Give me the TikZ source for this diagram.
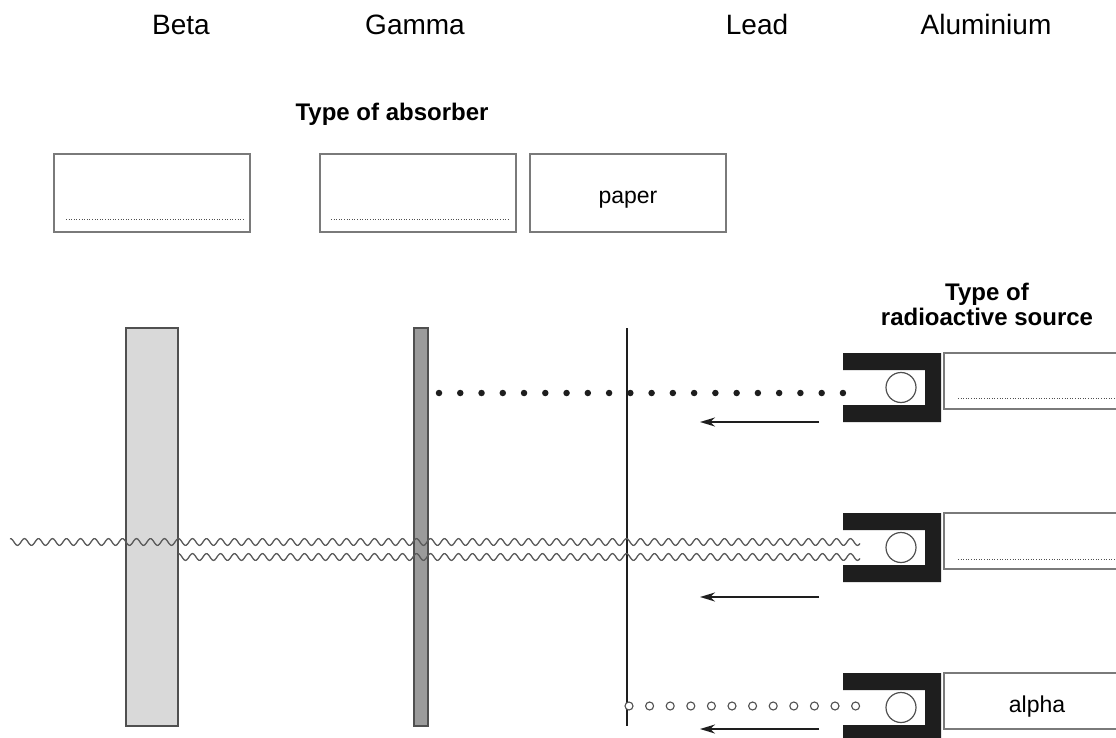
\documentclass[tikz,border=0pt]{standalone}
\usepackage{fontspec}
\setmainfont{Liberation Sans}
\usetikzlibrary{arrows.meta}
\definecolor{boxgray}{HTML}{7A7A7A}
\definecolor{edgegray}{HTML}{505050}
\definecolor{lightabs}{HTML}{D9D9D9}
\definecolor{darkabs}{HTML}{9B9B9B}
\definecolor{holder}{HTML}{1E1E1E}
\definecolor{wavegray}{HTML}{5A5A5A}
\begin{document}
\begin{tikzpicture}[x=1pt,y=-1pt,
  wordlbl/.style={font=\fontsize{28}{30}\selectfont, anchor=base, inner sep=0pt},
  ttl/.style={font=\bfseries\fontsize{24}{25}\selectfont, anchor=base, inner sep=0pt},
  boxtxt/.style={font=\fontsize{23}{25}\selectfont, anchor=base, inner sep=0pt},
  ansbox/.style={draw=boxgray, line width=1.4pt, fill=white},
  dotline/.style={draw=edgegray, line width=1pt, dash pattern=on 1pt off 1.6pt},
  absorb/.style={draw=edgegray, line width=1.4pt},
  holderfill/.style={fill=holder},
  srccirc/.style={draw=edgegray, line width=1.2pt, fill=white},
  wave/.style={draw=wavegray, line width=1.3pt},
  ray/.style={draw=holder, line width=2pt, -{Stealth[length=15pt,width=9pt]}},
  bdot/.style={circle, fill=holder, inner sep=0pt, minimum size=6.5pt},
  odot/.style={circle, draw=edgegray, line width=1.1pt, inner sep=0pt, minimum size=8pt, fill=white}
]
\clip (0,0) rectangle (1116,738);
\fill[white] (0,0) rectangle (1116,738);

% word bank
\node[wordlbl] (wBeta) at (181,35) {Beta};
\node[wordlbl] (wGamma) at (415,35) {Gamma};
\node[wordlbl] (wLead) at (757,35) {Lead};
\node[wordlbl] (wAl) at (986,35) {Aluminium};

% titles
\node[ttl] (tAbs) at (392,121) {Type of absorber};
\node[ttl] (tSrc1) at (987,300) {Type of};
\node[ttl] (tSrc2) at (987,325) {radioactive source};

% absorber answer boxes
\draw[ansbox] (54,154) rectangle (250,232);
\draw[dotline] (66,220) -- (243,220);
\draw[ansbox] (320,154) rectangle (516,232);
\draw[dotline] (331,220) -- (508,220);
\draw[ansbox] (530,154) rectangle (726,232);
\node[boxtxt] (paper) at (628,204) {paper};

% absorbers
\draw[absorb, fill=lightabs] (126,328) rectangle (178,726);
\draw[absorb, fill=darkabs] (414,328) rectangle (428,726);
\draw[draw=holder, line width=1.8pt] (627,328) -- (627,726);

% sources
\foreach \t/\n in {353/1,513/2,673/3}{
  \fill[holderfill] (843,\t) -- (941,\t) -- (941,\t+69) -- (843,\t+69) -- (843,\t+52)
     -- (925,\t+52) -- (925,\t+17) -- (843,\t+17) -- cycle;
  \node[srccirc, circle, minimum size=30pt, inner sep=0pt] (c\n) at (901,\t+34.5) {};
  \draw[ansbox] (944,\t) rectangle (1130,\t+56);
}
\draw[dotline] (958,398) -- (1116,398);
\draw[dotline] (958,559) -- (1116,559);
\node[boxtxt] (alpha) at (1037,712) {alpha};

% beta particles (dots)
\foreach \i in {0,...,19}{
  \node[bdot] (d\i) at (439+21.26*\i,393) {};
}

% gamma waves
\draw[wave] plot[domain=10:860, samples=700, smooth] (\x, {542+3.4*sin(mod(\x,14)*25.7143)});
\draw[wave] plot[domain=178:860, samples=560, smooth] (\x, {557+3.4*sin(mod(\x,14)*25.7143)});

% alpha particles (circles)
\foreach \i in {0,...,11}{
  \node[odot] (o\i) at (629+20.6*\i,706) {};
}

% arrows
\coordinate (a1s) at (819,422); \coordinate (a1e) at (700,422);
\coordinate (a2s) at (819,597); \coordinate (a2e) at (700,597);
\coordinate (a3s) at (819,729); \coordinate (a3e) at (700,729);
\draw[ray] (a1s) -- (a1e);
\draw[ray] (a2s) -- (a2e);
\draw[ray] (a3s) -- (a3e);
\end{tikzpicture}
\end{document}
